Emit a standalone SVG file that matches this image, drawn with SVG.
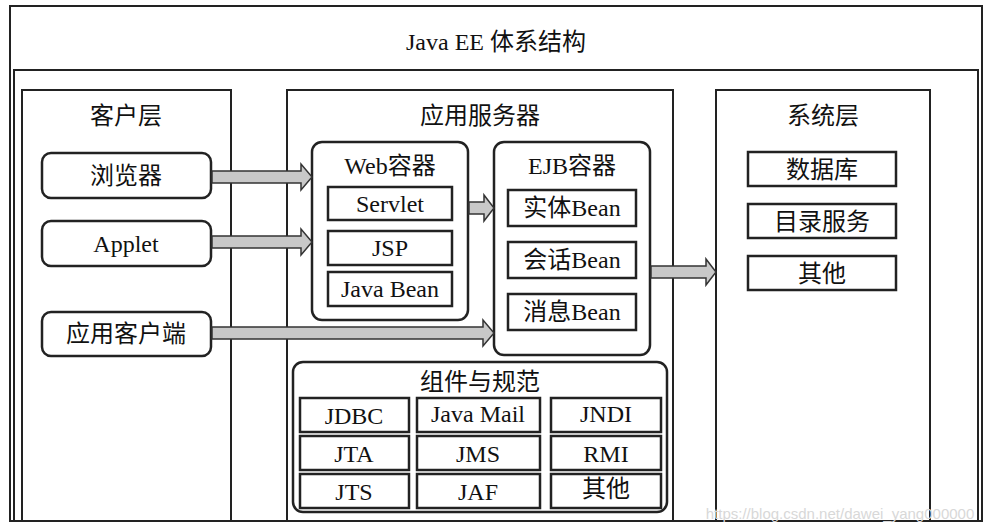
<svg xmlns="http://www.w3.org/2000/svg" width="994" height="532" viewBox="0 0 994 532">
<defs>
<style>
text{font-family:"Liberation Serif","Noto Sans CJK SC",serif;font-size:24px;fill:#111;text-anchor:middle}
.f{fill:#fff;stroke:#222;stroke-width:2}
.c{fill:#fff;stroke:#222;stroke-width:2.5}
.ar{fill:#c8c8c8;stroke:#333;stroke-width:1.5}
</style>
</defs>
<rect x="0" y="0" width="994" height="532" fill="#fff"/>
<g id="frame">
<path d="M14 521 V70 H978 V521" fill="none" stroke="#222" stroke-width="2"/>
<text x="496" y="50">Java EE 体系结构</text>
</g>
<g id="client"><path class="f" d="M22 521 V90 H231 V521"/><text x="126" y="124">客户层</text></g>
<g id="server"><path class="f" d="M287 521 V90 H673 V521"/><text x="480" y="124">应用服务器</text></g>
<g id="system"><path class="f" d="M716 521 V90 H930 V521"/><text x="823" y="124">系统层</text></g>
<rect x="10" y="6" width="972" height="515" fill="none" stroke="#222" stroke-width="2"/>
<g id="browser"><rect class="c" x="42" y="153" width="169" height="45" rx="9"/><text x="126" y="184">浏览器</text></g>
<g id="applet"><rect class="c" x="42" y="221" width="169" height="45" rx="9"/><text x="126" y="252">Applet</text></g>
<g id="appclient"><rect class="c" x="42" y="312" width="169" height="44" rx="9"/><text x="126" y="342">应用客户端</text></g>
<g id="web"><rect class="c" x="312" y="142" width="156" height="178" rx="10"/><text x="390" y="174">Web容器</text>
<rect class="c" x="328" y="187" width="124" height="33"/><text x="390" y="212">Servlet</text>
<rect class="c" x="328" y="231" width="124" height="34"/><text x="390" y="256">JSP</text>
<rect class="c" x="328" y="272" width="124" height="34"/><text x="390" y="297">Java Bean</text></g>
<g id="ejb"><rect class="c" x="494" y="142" width="156" height="213" rx="10"/><text x="572" y="174">EJB容器</text>
<rect class="c" x="508" y="190" width="128" height="36"/><text x="572" y="216">实体Bean</text>
<rect class="c" x="508" y="242" width="128" height="36"/><text x="572" y="268">会话Bean</text>
<rect class="c" x="508" y="294" width="128" height="36"/><text x="572" y="320">消息Bean</text></g>
<g id="db"><rect class="c" x="748" y="152" width="148" height="34"/><text x="822" y="178">数据库</text></g>
<g id="dir"><rect class="c" x="748" y="204" width="148" height="34"/><text x="822" y="230">目录服务</text></g>
<g id="other"><rect class="c" x="748" y="256" width="148" height="34"/><text x="822" y="282">其他</text></g>
<g id="spec"><rect class="c" x="293" y="362" width="374" height="150" rx="10"/><text x="480" y="390">组件与规范</text>
<rect class="c" x="300" y="398" width="109" height="34"/><text x="354" y="424">JDBC</text>
<rect class="c" x="417" y="398" width="123" height="34"/><text x="478" y="422">Java Mail</text>
<rect class="c" x="551" y="398" width="110" height="34"/><text x="606" y="422">JNDI</text>
<rect class="c" x="300" y="436" width="109" height="34"/><text x="354" y="462">JTA</text>
<rect class="c" x="417" y="436" width="123" height="34"/><text x="478" y="462">JMS</text>
<rect class="c" x="551" y="436" width="110" height="34"/><text x="606" y="462">RMI</text>
<rect class="c" x="300" y="474" width="109" height="34"/><text x="354" y="500">JTS</text>
<rect class="c" x="417" y="474" width="123" height="34"/><text x="478" y="500">JAF</text>
<rect class="c" x="551" y="474" width="110" height="34"/><text x="606" y="497">其他</text></g>
<g id="connectors">
<path class="ar" d="M212 171 H301 V164 L312 177 L301 190 V183 H212 Z"/>
<path class="ar" d="M212 236 H301 V229 L312 242 L301 255 V248 H212 Z"/>
<path class="ar" d="M212 327 H483 V320 L494 333 L483 346 V339 H212 Z"/>
<path class="ar" d="M469 202 H484 V195 L494 208 L484 221 V214 H469 Z"/>
<path class="ar" d="M651 266 H706 V259 L716 272 L706 285 V278 H651 Z"/>
</g>
<text x="840" y="519" style="font-family:'Liberation Sans',sans-serif;font-size:15px;fill:#d8d8d8">https://blog.csdn.net/dawei_yang000000</text>
</svg>
